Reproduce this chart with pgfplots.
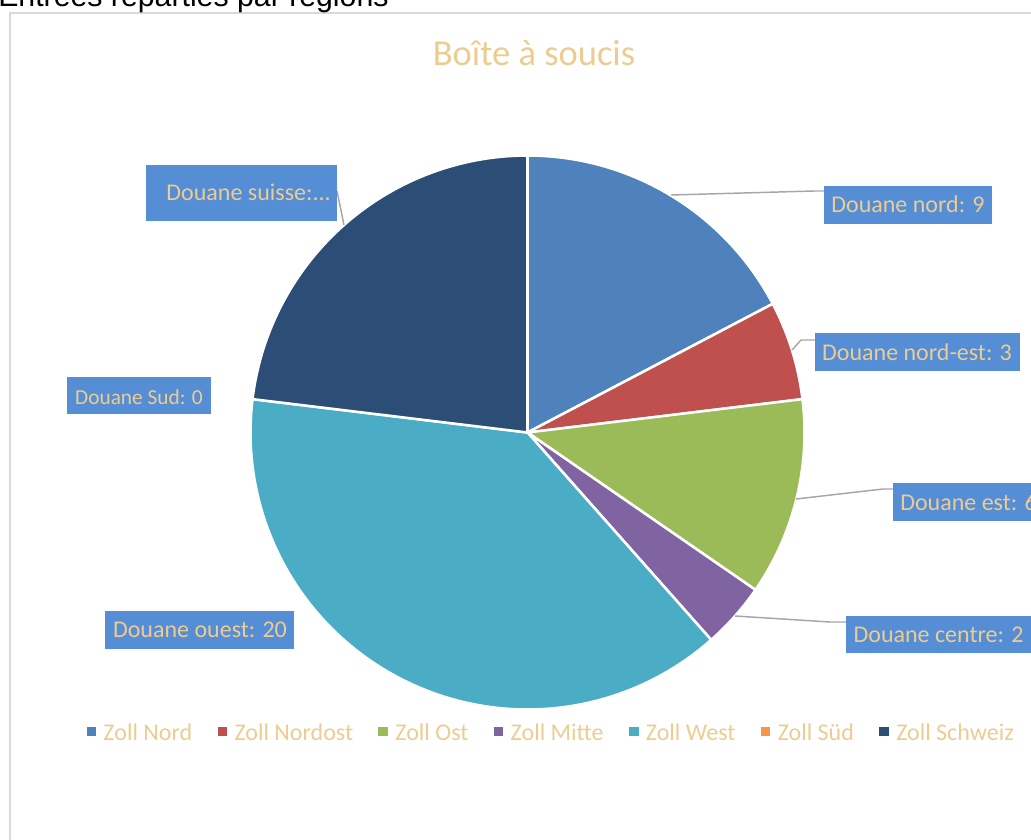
\documentclass[border=0pt]{standalone}
\usepackage{fontspec}
\setmainfont{Carlito}
\newfontfamily\arialfont{Liberation Sans}
\usepackage{pgfplots}
\pgfplotsset{compat=1.18}

\definecolor{cNord}{HTML}{4F81BD}
\definecolor{cNordost}{HTML}{C0504D}
\definecolor{cOst}{HTML}{9BBB59}
\definecolor{cMitte}{HTML}{8064A2}
\definecolor{cWest}{HTML}{4BACC6}
\definecolor{cSud}{HTML}{F79646}
\definecolor{cSchweiz}{HTML}{2C4D75}
\definecolor{boxblue}{HTML}{558ED5}
\definecolor{gold}{HTML}{ECCC91}
\definecolor{leader}{HTML}{A6A6A6}
\definecolor{framegray}{HTML}{D9D9D9}

% data values
\def\vNord{9}
\def\vNordost{3}
\def\vOst{6}
\def\vMitte{2}
\def\vWest{20}
\def\vSud{0}
\def\vSchweiz{12}

\def\cx{527.5}
\def\cy{432.5}
\def\R{277}

\newcommand\pieslice[3]{%
  \addplot[fill=#1, draw=white, line width=1.9pt, line join=round,
    domain=#2:#3, samples=100, variable=\t, forget plot]
    ({\cx+\R*cos(\t)},{\cy+\R*sin(\t)}) -- (axis cs:\cx,\cy) -- cycle;
}

\begin{document}
\begin{tikzpicture}
\pgfmathsetmacro\total{\vNord+\vNordost+\vOst+\vMitte+\vWest+\vSud+\vSchweiz}
\pgfmathsetmacro\aA{-90}
\pgfmathsetmacro\aB{\aA+360*\vNord/\total}
\pgfmathsetmacro\aC{\aB+360*\vNordost/\total}
\pgfmathsetmacro\aD{\aC+360*\vOst/\total}
\pgfmathsetmacro\aE{\aD+360*\vMitte/\total}
\pgfmathsetmacro\aF{\aE+360*\vWest/\total}
\pgfmathsetmacro\aG{\aF+360*\vSud/\total}
\pgfmathsetmacro\aH{\aG+360*\vSchweiz/\total}
\useasboundingbox (0,0) rectangle (773.25pt,629.25pt);
\clip (0,0) rectangle (773.25pt,629.25pt);
\begin{axis}[
  at={(0,0)}, anchor=south west,
  scale only axis, width=773.25pt, height=629.25pt,
  xmin=0, xmax=1031, ymin=0, ymax=839, y dir=reverse,
  axis lines=none, clip=false,
  legend columns=7,
  legend image code/.code={\fill[#1, draw=none] (0pt,-2.6pt) rectangle (7.2pt,4.6pt);},
  legend style={at={(axis cs:551.5,733)}, anchor=center, draw=none, fill=none,
    font=\fontsize{18}{21}\selectfont, text=gold,
    /tikz/every odd column/.append style={column sep=3.5pt},
    /tikz/every even column/.append style={column sep=17pt}},
]
% frame
\draw[framegray, line width=1.5pt] (axis cs:1100,12.5) -- (axis cs:10,12.5) -- (axis cs:10,900);

% slices
\pieslice{cNord}{\aA}{\aB}
\pieslice{cNordost}{\aB}{\aC}
\pieslice{cOst}{\aC}{\aD}
\pieslice{cMitte}{\aD}{\aE}
\pieslice{cWest}{\aE}{\aF}
\pieslice{cSchweiz}{\aG}{\aH}

% legend entries
\addlegendimage{fill=cNord}\addlegendentry{Zoll Nord}
\addlegendimage{fill=cNordost}\addlegendentry{Zoll Nordost}
\addlegendimage{fill=cOst}\addlegendentry{Zoll Ost}
\addlegendimage{fill=cMitte}\addlegendentry{Zoll Mitte}
\addlegendimage{fill=cWest}\addlegendentry{Zoll West}
\addlegendimage{fill=cSud}\addlegendentry{Zoll Süd}
\addlegendimage{fill=cSchweiz}\addlegendentry{Zoll Schweiz}

% leader lines
\addplot[leader, line width=1.1pt, forget plot] coordinates {(671,195) (814,191) (824,191)};
\addplot[leader, line width=1.1pt, forget plot] coordinates {(792,350) (801,340) (815,340)};
\addplot[leader, line width=1.1pt, forget plot] coordinates {(796,499) (883,489) (893,489)};
\addplot[leader, line width=1.1pt, forget plot] coordinates {(735,616) (830,622) (846,622)};
\addplot[leader, line width=1.1pt, forget plot] coordinates {(344,225) (337,191)};

% top text
\node[anchor=base west, inner sep=0pt, font=\arialfont\fontsize{22.7}{26}\selectfont] at (axis cs:-2,6.5) {Entrées réparties par régions};
% title
\node[anchor=base, inner sep=0pt, text=gold, font=\fontsize{27.4}{32}\selectfont] at (axis cs:534,65) {Boîte à soucis};

% label boxes
\tikzset{lbox/.style={fill=boxblue, inner sep=0pt, anchor=north west},
         ltext/.style={inner sep=0pt, text=gold, font=\fontsize{18}{21}\selectfont}}
\node[lbox, minimum width=143.25pt, minimum height=42pt] at (axis cs:146,165) {};
\node[ltext, anchor=base east] at (axis cs:331,200.5) {Douane suisse:...};
\node[lbox, minimum width=126pt, minimum height=28.5pt] at (axis cs:824,186) {};
\node[ltext, anchor=base] at (axis cs:908,212) {Douane nord: 9};
\node[lbox, minimum width=153.75pt, minimum height=28.5pt] at (axis cs:815,333) {};
\node[ltext, anchor=base] at (axis cs:917,360) {Douane nord-est: 3};
\node[lbox, minimum width=150pt, minimum height=28.5pt] at (axis cs:893,483) {};
\node[ltext, anchor=base west] at (axis cs:900,510) {Douane est: 6};
\node[lbox, minimum width=138.75pt, minimum height=27.75pt] at (axis cs:846,616) {};
\node[ltext, anchor=base] at (axis cs:938.5,642.5) {Douane centre: 2};
\node[lbox, minimum width=108pt, minimum height=27.75pt] at (axis cs:67,377) {};
\node[ltext, anchor=base, font=\fontsize{16}{19}\selectfont] at (axis cs:139,404) {Douane Sud: 0};
\node[lbox, minimum width=141.75pt, minimum height=28.5pt] at (axis cs:105,611) {};
\node[ltext, anchor=base] at (axis cs:200,637.3) {Douane ouest: 20};
\end{axis}
\end{tikzpicture}
\end{document}
